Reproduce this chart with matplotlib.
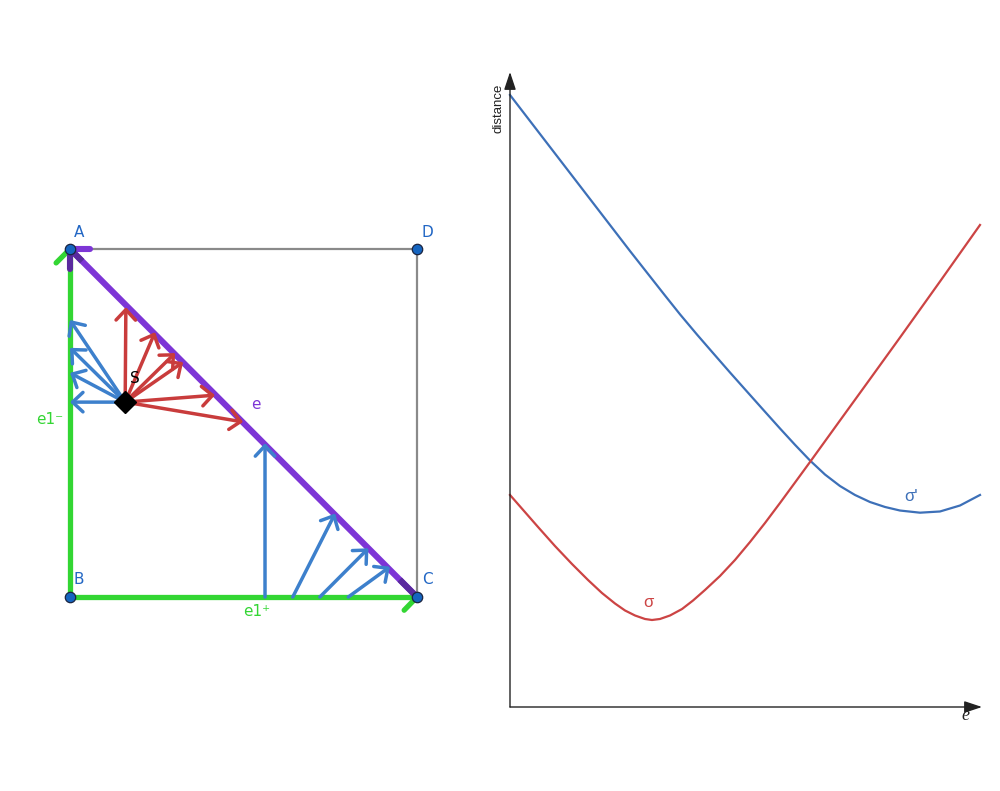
import matplotlib
matplotlib.use("Agg")
import matplotlib.pyplot as plt

# ---------------- data: left diagram (unit square) ----------------
corner_labels = ["A", "B", "C", "D"]
corner_x = [0.0, 0.0, 1.0, 1.0]
corner_y = [1.0, 0.0, 0.0, 1.0]
corner_label_x = [0.026, 0.026, 1.029, 1.029]
corner_label_y = [1.046, 0.049, 0.049, 1.046]

s_point = (0.159, 0.560)

red_tip_x = [0.161, 0.245, 0.303, 0.326, 0.418, 0.499]
red_tip_y = [0.833, 0.761, 0.701, 0.675, 0.580, 0.503]

blue_left_tip_x = [0.0, 0.0, 0.0, 0.0]
blue_left_tip_y = [0.796, 0.716, 0.644, 0.560]

blue_bottom_start_x = [0.562, 0.642, 0.720, 0.802]
blue_bottom_start_y = [0.0, 0.0, 0.0, 0.0]
blue_bottom_tip_x = [0.562, 0.764, 0.860, 0.922]
blue_bottom_tip_y = [0.442, 0.240, 0.140, 0.087]

# ---------------- data: right chart ----------------
sigma_prime_e = [0, 0.638, 1.277, 1.915, 2.553, 2.979, 3.298, 3.617, 3.979,
                 4.319, 4.681, 5.043, 5.383, 5.745, 6.064, 6.383, 6.702, 7.021,
                 7.340, 7.660, 7.979, 8.298, 8.723, 9.149, 9.574, 10.0]
sigma_prime_d = [9.638, 9.024, 8.409, 7.795, 7.181, 6.780, 6.480, 6.184, 5.865,
                 5.575, 5.268, 4.967, 4.685, 4.386, 4.129, 3.882, 3.661, 3.480,
                 3.339, 3.228, 3.150, 3.094, 3.060, 3.079, 3.173, 3.339]

sigma_e = [0, 0.298, 0.596, 0.957, 1.319, 1.660, 1.957, 2.234, 2.447, 2.660,
           2.872, 3.021, 3.191, 3.404, 3.660, 3.894, 4.149, 4.468, 4.787, 5.106,
           5.426, 5.745, 6.064, 6.383, 7.021, 7.660, 8.298, 9.149, 10.0]
sigma_d = [3.339, 3.087, 2.835, 2.535, 2.252, 2.000, 1.795, 1.630, 1.520, 1.441,
           1.386, 1.370, 1.386, 1.441, 1.543, 1.677, 1.843, 2.063, 2.315, 2.598,
           2.898, 3.213, 3.535, 3.858, 4.512, 5.165, 5.819, 6.701, 7.591]

# ---------------- colours ----------------
GREEN = "#33d633"
PURPLE = "#7d35d6"
DARK_PURPLE = "#5a2a9e"
GRAY = "#8a8a8a"
RED_ARROW = "#c93c3c"
BLUE_ARROW = "#3d80cc"
LABEL_BLUE = "#2166c4"
CURVE_BLUE = "#3d70b8"
CURVE_RED = "#cc4444"

fig = plt.figure(figsize=(10, 7.91), dpi=100)

# ---------------- left diagram ----------------
axL = fig.add_axes([0, 0, 0.48, 1])
axL.set_xlim(-70 / 347, 410 / 347)
axL.set_ylim(-194 / 348, 597 / 348)
axL.axis("off")

A = (corner_x[0], corner_y[0])
B = (corner_x[1], corner_y[1])
C = (corner_x[2], corner_y[2])
D = (corner_x[3], corner_y[3])

# gray square sides
axL.plot([A[0], D[0]], [A[1], D[1]], color=GRAY, lw=1.6, zorder=1)
axL.plot([D[0], C[0]], [D[1], C[1]], color=GRAY, lw=1.6, zorder=1)

# green sides
axL.plot([B[0], A[0]], [B[1], A[1]], color=GREEN, lw=3.8, zorder=2, solid_capstyle="butt")
axL.plot([B[0], C[0]], [B[1], C[1]], color=GREEN, lw=3.8, zorder=2, solid_capstyle="butt")
# green ticks
axL.plot([A[0], A[0] - 0.040], [A[1], A[1] - 0.040], color=GREEN, lw=3.8, zorder=2, solid_capstyle="round")
axL.plot([C[0], C[0] - 0.037], [C[1], C[1] - 0.038], color=GREEN, lw=3.8, zorder=2, solid_capstyle="round")

# purple diagonal
axL.plot([A[0], C[0]], [A[1], C[1]], color=PURPLE, lw=4.4, zorder=3, solid_capstyle="butt")
axL.plot([A[0], A[0] + 0.058], [A[1], A[1]], color=PURPLE, lw=4.4, zorder=3, solid_capstyle="round")
axL.plot([A[0], A[0]], [A[1], A[1] - 0.058], color=DARK_PURPLE, lw=4.4, zorder=3, solid_capstyle="round")
axL.plot([A[0], A[0] + 0.035], [A[1], A[1] - 0.035], color=DARK_PURPLE, lw=4.4, zorder=3, solid_capstyle="butt")
axL.plot([C[0], C[0] - 0.05], [C[1], C[1] + 0.05], color=DARK_PURPLE, lw=4.4, zorder=3, solid_capstyle="butt")

arrow_kw = dict(arrowstyle="->,head_length=0.75,head_width=0.7", lw=2.5,
                shrinkA=0, shrinkB=0, mutation_scale=10, capstyle="round")

# red arrows from S
for tx, ty in zip(red_tip_x, red_tip_y):
    axL.annotate("", xy=(tx, ty), xytext=s_point,
                 arrowprops=dict(color=RED_ARROW, **arrow_kw), zorder=4)

# blue arrows from S to left side
for tx, ty in zip(blue_left_tip_x, blue_left_tip_y):
    axL.annotate("", xy=(tx, ty), xytext=s_point,
                 arrowprops=dict(color=BLUE_ARROW, **arrow_kw), zorder=4)

# blue arrows from bottom to diagonal
for sx, sy, tx, ty in zip(blue_bottom_start_x, blue_bottom_start_y,
                          blue_bottom_tip_x, blue_bottom_tip_y):
    axL.annotate("", xy=(tx, ty), xytext=(sx, sy),
                 arrowprops=dict(color=BLUE_ARROW, **arrow_kw), zorder=4)

# S diamond
axL.plot([s_point[0]], [s_point[1]], marker="D", ms=11.5, color="black", zorder=6)

# corner points
axL.plot(corner_x, corner_y, "o", ms=7.5, markerfacecolor="#1565c0",
         markeredgecolor="#1a2440", markeredgewidth=0.9, zorder=7, linestyle="none")

for lab, lx, ly in zip(corner_labels, corner_label_x, corner_label_y):
    axL.text(lx, ly, lab, color=LABEL_BLUE, fontsize=11, ha="center", va="center")

axL.text(0.187, 0.629, "S", color="black", fontsize=11, ha="center", va="center", zorder=8)
axL.text(0.536, 0.552, "e", color=PURPLE, fontsize=11, ha="center", va="center")
axL.text(-0.058, 0.509, "e1\u207b", color=GREEN, fontsize=11, ha="center", va="center")
axL.text(0.539, -0.043, "e1\u207a", color=GREEN, fontsize=11, ha="center", va="center")

# ---------------- right chart ----------------
axR = fig.add_axes([0.51, (791 - 707) / 791, 0.472, 635 / 791])
axR.set_xlim(0, 472 / 47)
axR.set_ylim(0, 10)
axR.axis("off")

axR.plot(sigma_prime_e, sigma_prime_d, color=CURVE_BLUE, lw=1.6, clip_on=False,
         solid_joinstyle="round")
axR.plot(sigma_e, sigma_d, color=CURVE_RED, lw=1.6, clip_on=False,
         solid_joinstyle="round")

axis_kw = dict(arrowstyle="-|>,head_length=0.9,head_width=0.3", color="#222222",
               lw=1.0, shrinkA=0, shrinkB=0, mutation_scale=12)
axR.annotate("", xy=(1, 0), xytext=(0, 0), xycoords="axes fraction",
             textcoords="axes fraction", arrowprops=axis_kw)
axR.annotate("", xy=(0, 1), xytext=(0, 0), xycoords="axes fraction",
             textcoords="axes fraction", arrowprops=axis_kw)

axR.text(-0.255, 9.43, "distance", rotation=90, fontsize=9.5, ha="center", va="center",
         color="#222222", family="Liberation Sans")
axR.text(8.53, 3.32, "\u03c3'", fontsize=12, color=CURVE_BLUE, ha="center", va="center",
         family="Liberation Sans")
axR.text(2.94, 1.65, "\u03c3", fontsize=12, color=CURVE_RED, ha="center", va="center",
         family="Liberation Sans")
axR.text(9.70, -0.14, "e", fontsize=13, style="italic", family="Liberation Serif",
         color="#222222", ha="center", va="center")

fig.savefig("out.png", dpi=100)
